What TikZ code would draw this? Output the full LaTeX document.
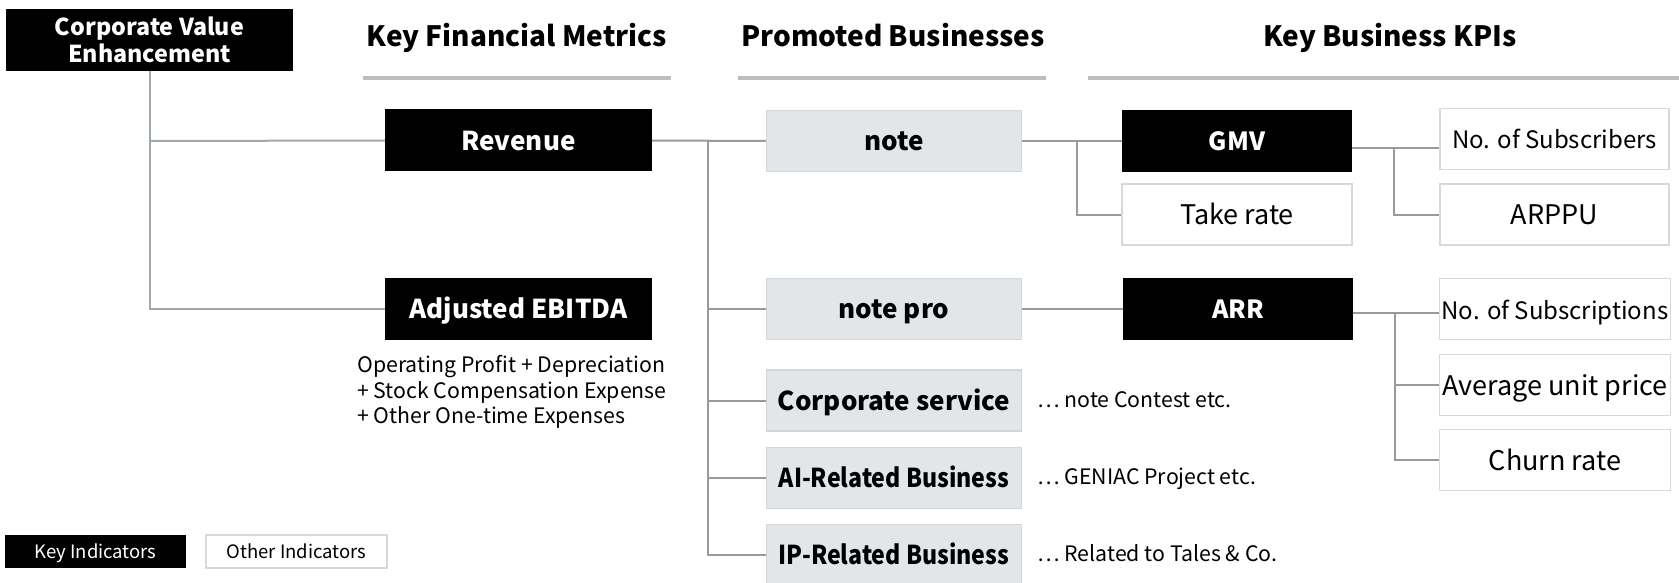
\documentclass[tikz,border=0pt]{standalone}
\usepackage{fontspec}
\usepackage{graphicx}
\setmainfont{Noto Sans CJK JP}
\definecolor{bizfill}{HTML}{E3E6E9}
\definecolor{bizborder}{HTML}{D3D6D9}
\definecolor{othborder}{HTML}{D9D9D9}
\definecolor{conngray}{HTML}{9A9A9A}
\definecolor{leftgray}{HTML}{9EA8AE}
\definecolor{ulgray}{HTML}{BEBEBE}
\begin{document}
\begin{tikzpicture}[x=1pt,y=-1pt,
  keybox/.style={fill=black,text=white,inner sep=0pt,minimum width=#1,minimum height=62pt,
    font=\bfseries\fontsize{26}{30}\selectfont,text height=21pt,text depth=2pt},
  keybox/.default=230pt,
  bizbox/.style={fill=bizfill,draw=bizborder,line width=1.5pt,inner sep=0pt,minimum width=255pt,minimum height=61pt,
    font=\bfseries\fontsize{26}{30}\selectfont,text height=21pt,text depth=2pt},
  othbox/.style={fill=white,draw=othborder,line width=1.5pt,inner sep=0pt,minimum width=#1,minimum height=61pt,
    font=\fontsize{27}{32}\selectfont,text height=21pt,text depth=1pt},
  othbox/.default=229pt,
  heading/.style={font=\bfseries\fontsize{28}{32}\selectfont,inner sep=0pt,anchor=base},
  sidetext/.style={font=\fontsize{21.3}{26}\selectfont,inner sep=0pt,anchor=base west},
  conn/.style={draw=conngray,line width=2pt},
  lconn/.style={draw=leftgray,line width=2pt},
  uline/.style={draw=ulgray,line width=4pt},
  legbox/.style={inner sep=0pt,minimum width=181pt,minimum height=33pt,font=\fontsize{18.5}{22}\selectfont,
    text height=15pt,text depth=2pt}
]
\useasboundingbox (0,0) rectangle (1679,583);
\clip (0,0) rectangle (1679,583);

% headings
\node[keybox=287pt,font=\bfseries\fontsize{23.3}{26.5}\selectfont,align=center,text height=,text depth=] (corp) at (149.5,40) {Corporate Value\\Enhancement};
\node[heading] (h1) at (517,47) {Key Financial Metrics};
\node[heading] (h2) at (893,47) {Promoted Businesses};
\node[heading] (h3) at (1390,47) {Key Business KPIs};
\coordinate (u1a) at (363,78); \coordinate (u1b) at (671,78);
\coordinate (u2a) at (738,78); \coordinate (u2b) at (1046,78);
\coordinate (u3a) at (1088,78); \coordinate (u3b) at (1679,78);
\draw[uline] (u1a) -- (u1b);
\draw[uline] (u2a) -- (u2b);
\draw[uline] (u3a) -- (u3b);

% financial metrics
\node[keybox=267pt] (revenue) at (518.5,140.5) {Revenue};
\node[keybox=267pt] (ebitda) at (518.5,309) {Adjusted EBITDA};
\node[font=\fontsize{21.3}{25.7}\selectfont,align=left,anchor=north west,inner sep=0pt] (ebnote) at (357,355)
  {Operating Profit + Depreciation\\+ Stock Compensation Expense\\+ Other One-time Expenses};

% businesses
\node[bizbox] (note) at (894,141) {note};
\node[bizbox] (notepro) at (894,309) {note pro};
\node[bizbox] (corpsvc) at (894,400.5) {Corporate service};
\node[bizbox] (ai) at (894,478) {\scalebox{0.89}[1]{AI-Related Business}};
\node[bizbox] (ip) at (894,555) {\scalebox{0.89}[1]{IP-Related Business}};
\node[sidetext] (t1) at (1037,407) {… note Contest etc.};
\node[sidetext] (t2) at (1037,484) {… GENIAC Project etc.};
\node[sidetext] (t3) at (1037,561) {… Related to Tales \& Co.};

% KPIs
\node[keybox,font=\bfseries\fontsize{25}{30}\selectfont] (gmv) at (1237,141) {GMV};
\node[othbox=230pt] (take) at (1237,214.5) {Take rate};
\node[keybox,font=\bfseries\fontsize{25}{30}\selectfont] (arr) at (1238,309) {ARR};
\node[othbox,font=\fontsize{24}{30}\selectfont] (subs) at (1554.5,139) {No. of Subscribers};
\node[othbox] (arppu) at (1554.5,214.5) {ARPPU};
\node[othbox=231pt,font=\fontsize{24}{30}\selectfont] (subsc) at (1555,309) {No. of Subscriptions};
\node[othbox=231pt] (avg) at (1555,385) {Average unit price};
\node[othbox=231pt] (churn) at (1555,460) {Churn rate};

% legend
\node[legbox,fill=black,text=white] (lk) at (95.5,551.5) {Key Indicators};
\node[legbox,fill=white,draw=othborder,line width=1.5pt] (lo) at (296.5,551.5) {Other Indicators};

% connectors
\coordinate (v0) at (150,141);
\draw[lconn] (corp.south) |- (ebitda.west);
\draw[lconn] (v0) -- (revenue.west);

\coordinate (v1) at (708,141);
\draw[conn] (revenue.east) -- (note.west);
\draw[conn] (v1) |- (ip.west);
\draw[conn] (v1) |- (notepro.west);
\draw[conn] (v1) |- (corpsvc.west);
\draw[conn] (v1) |- (ai.west);

\coordinate (v2) at (1077,141);
\draw[conn] (note.east) -- (gmv.west);
\draw[conn] (v2) |- (take.west);

\coordinate (gout) at ([yshift=-7pt]gmv.east);
\coordinate (v3) at (1394,148);
\draw[conn] (gout) -- (gout -| subs.west);
\draw[conn] (v3) |- (arppu.west);

\draw[conn] (notepro.east) -- (arr.west);
\coordinate (aout) at ([yshift=-4pt]arr.east);
\coordinate (v4) at (1395,313);
\draw[conn] (aout) -- (aout -| subsc.west);
\draw[conn] (v4) |- (avg.west);
\draw[conn] (v4) |- (churn.west);
\end{tikzpicture}
\end{document}
